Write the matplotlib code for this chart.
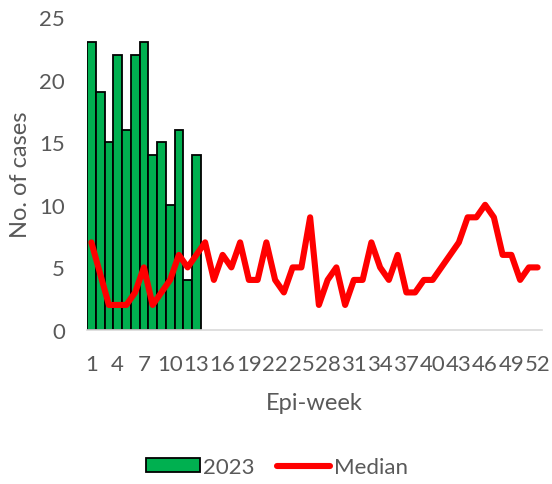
import matplotlib.pyplot as plt
import numpy as np

# %% data
weeks = np.arange(1, 53)
cases_2023 = [23, 19, 15, 22, 16, 22, 23, 14, 15, 10, 16, 4, 14]
median = [7, 4.5, 2, 2, 2, 3, 5, 2, 3, 4, 6, 5, 6, 7, 4, 6, 5, 7, 4, 4,
          7, 4, 3, 5, 5, 9, 2, 4, 5, 2, 4, 4, 7, 5, 4, 6, 3, 3, 4, 4,
          5, 6, 7, 9, 9, 10, 9, 6, 6, 4, 5, 5]
tick_weeks = weeks[::3]

# %% plot
plt.rcParams["font.family"] = ["Lato", "DejaVu Sans"]
grey = "#595959"

fig = plt.figure(figsize=(5.52, 4.85), dpi=100)
ax = fig.add_axes([87 / 552, 1 - 331 / 485, 455 / 552, 313 / 485])

bars = ax.bar(weeks[:len(cases_2023)], cases_2023, width=1.0, color="#00B050",
              edgecolor="black", linewidth=1.3, label="2023", zorder=2)
line, = ax.plot(weeks, median, color="#FF0000", linewidth=4.4, solid_joinstyle="round",
                solid_capstyle="round", label="Median", zorder=3)

ax.set_xlim(0.5, 52.5)
ax.set_ylim(0, 25)
ax.set_yticks(np.arange(0, 26, 5))
ax.set_xticks(tick_weeks)
ax.tick_params(axis="both", length=0, labelsize=16, colors=grey)
ax.tick_params(axis="x", pad=17)
ax.tick_params(axis="y", pad=16)
for side in ["top", "right", "left"]:
    ax.spines[side].set_visible(False)
ax.spines["bottom"].set_color("#D9D9D9")
ax.spines["bottom"].set_linewidth(1.2)

ax.set_xlabel("Epi-week", fontsize=17, color=grey, labelpad=13)
ax.set_ylabel("No. of cases", fontsize=17, color=grey, labelpad=6)

leg = fig.legend([bars, line], ["2023", "Median"], loc="center",
                 bbox_to_anchor=(277 / 552, 1 - 468 / 485), ncol=2,
                 frameon=False, fontsize=16, handlelength=2.4, handleheight=0.6,
                 columnspacing=1.0, handletextpad=0.15)
for t in leg.get_texts():
    t.set_color(grey)

fig.savefig("out.png", dpi=100)
